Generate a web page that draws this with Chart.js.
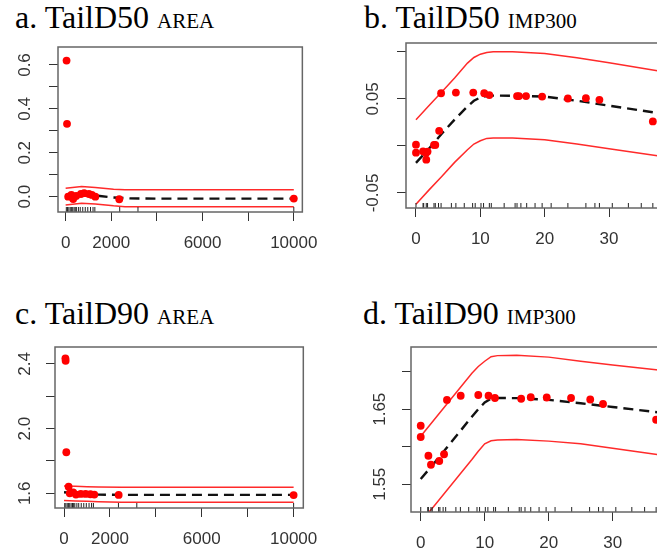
<!DOCTYPE html>
<html>
<head>
<meta charset="utf-8">
<script src="https://cdn.jsdelivr.net/npm/chart.js@4"></script>
<style>
html, body { margin: 0; padding: 0; background: #fff; overflow: hidden; }
body { width: 657px; height: 556px; position: relative; }
.ttl { position: absolute; font-family: "Liberation Serif", "Times New Roman", serif; font-size: 32px; line-height: 32px; color: #000; white-space: nowrap; }
.ttl small { font-size: 21px; }
canvas { position: absolute; }
</style>
</head>
<body>
<div class="ttl" style="left:15px;top:1px">a. TailD50 <small>AREA</small></div>
<div class="ttl" style="left:364px;top:1px">b. TailD50 <small>IMP300</small></div>
<div class="ttl" style="left:15px;top:297px">c. TailD90 <small>AREA</small></div>
<div class="ttl" style="left:363px;top:297px">d. TailD90 <small>IMP300</small></div>
<canvas id="pa" width="330" height="230" style="left:0;top:40px"></canvas>
<canvas id="pb" width="360" height="230" style="left:330px;top:40px"></canvas>
<canvas id="pc" width="330" height="226" style="left:0;top:330px"></canvas>
<canvas id="pd" width="360" height="226" style="left:330px;top:330px"></canvas>
<script>
// --- a. TailD50 ~ AREA ---
const ptsXa = [40, 60, 110, 250, 330, 460, 670, 810, 1020, 1150, 1300, 2350, 10000];
const ptsYa = [0.62, 0.332, 0.0, 0.008, -0.011, 0.003, 0.012, 0.016, 0.012, 0.008, 0.0, -0.012, -0.009];
const fitXa = [0, 500, 1000, 1500, 2000, 2800, 4000, 10000];
const fitYa = [0.0, 0.005, 0.007, 0.003, -0.003, -0.008, -0.009, -0.009];
const bandXa = [0, 700, 1300, 2100, 2600, 10000];
const upYa = [0.038, 0.046, 0.042, 0.034, 0.031, 0.031];
const loYa = [-0.038, -0.030, -0.033, -0.042, -0.046, -0.046];

// --- b. TailD50 ~ IMP300 ---
const ptsXb = [0, 0, 1.1, 1.55, 1.6, 1.8, 2.8, 3.0, 3.6, 3.9, 6.2, 8.9, 10.6, 11.4, 15.7, 16.0, 17.1, 19.6, 23.6, 26.4, 28.5, 36.8];
const ptsYb = [0.0013, -0.0072, -0.0058, -0.0075, -0.0146, -0.006, 0.001, 0.001, 0.016, 0.056, 0.0567, 0.0567, 0.056, 0.054, 0.053, 0.053, 0.053, 0.0525, 0.0504, 0.0507, 0.049, 0.026];
const fitXb = [0, 2, 4, 6, 8, 9, 10, 11, 12, 15, 20, 25, 30, 37.5];
const fitYb = [-0.018, -0.003, 0.013, 0.028, 0.042, 0.048, 0.0515, 0.053, 0.0535, 0.0533, 0.0525, 0.048, 0.0428, 0.035];
const upYb = [0.0278, 0.0426, 0.0574, 0.0722, 0.088, 0.094, 0.0975, 0.0994, 0.1, 0.1, 0.0982, 0.0938, 0.0883, 0.080];
const loYb = [-0.062, -0.047, -0.0325, -0.0175, -0.004, 0.002, 0.0055, 0.008, 0.0085, 0.0085, 0.0065, 0.002, -0.003, -0.0105];

// --- c. TailD90 ~ AREA ---
const ptsXc = [60, 70, 100, 200, 250, 400, 520, 730, 940, 1150, 1320, 2380, 10000];
const ptsYc = [2.435, 2.42, 1.854, 1.641, 1.60, 1.606, 1.592, 1.596, 1.596, 1.594, 1.592, 1.590, 1.589];
const fitXc = [0, 500, 1000, 1500, 2500, 10000];
const fitYc = [1.606, 1.600, 1.595, 1.592, 1.590, 1.590];
const upYc = [1.645, 1.643, 1.641, 1.639, 1.638, 1.638];
const loYc = [1.556, 1.553, 1.550, 1.547, 1.544, 1.544];

// --- d. TailD90 ~ IMP300 ---
const ptsXd = [0, 0, 1.2, 1.6, 2.9, 3.65, 4.1, 6.25, 9.0, 10.6, 11.6, 15.7, 17.2, 19.7, 23.5, 26.5, 28.5, 36.8];
const ptsYd = [1.628, 1.613, 1.588, 1.576, 1.581, 1.590, 1.6625, 1.668, 1.669, 1.668, 1.665, 1.664, 1.666, 1.6657, 1.665, 1.663, 1.657, 1.636];
const fitXd = [0, 2, 4, 6, 8, 9, 10, 11, 12, 15, 20, 25, 30, 37.5];
const fitYd = [1.557, 1.577, 1.598, 1.619, 1.640, 1.650, 1.659, 1.664, 1.665, 1.6648, 1.6625, 1.658, 1.653, 1.6455];
const upYd = [1.614, 1.635, 1.656, 1.677, 1.698, 1.707, 1.714, 1.720, 1.7215, 1.722, 1.7195, 1.714, 1.709, 1.702];
const loYd = [1.500, 1.520, 1.541, 1.562, 1.583, 1.594, 1.604, 1.608, 1.609, 1.6095, 1.6075, 1.604, 1.598, 1.589];

// rug (x values of observations)
const rugArea = [30, 80, 140, 200, 250, 310, 370, 420, 470, 560, 640, 750, 860, 970, 1090, 1200, 1280, 2370, 3170, 10000];
const rugImp = [0, 1.1, 1.2, 1.6, 1.8, 2.8, 3.0, 3.5, 3.9, 5.5, 6.2, 7.5, 8.8, 9.2, 10.1, 10.5, 11.4, 11.7, 13.7, 15.4, 15.7, 16.3, 17.2, 18.5, 19.6, 21.0, 23.6, 26.4, 27.8, 28.5, 30.5, 33.0, 35.0, 36.8];

// axis ticks + which ones get a label
const xTicksArea = [0, 2000, 4000, 6000, 8000, 10000];
const xLabArea = [0, 2000, 6000, 10000];
const xTicksImp = [0, 10, 20, 30];
const yTicksA = [0, 0.1, 0.2, 0.3, 0.4, 0.5, 0.6];
const yLabA = [0, 0.2, 0.4, 0.6];
const yTicksB = [-0.05, 0, 0.05, 0.1];
const yLabB = [-0.05, 0.05];
const yTicksC = [1.6, 1.8, 2.0, 2.2, 2.4];
const yLabC = [1.6, 2.0, 2.4];
const yTicksD = [1.55, 1.6, 1.65, 1.7];
const yLabD = [1.55, 1.65];

const tickFont = { family: 'Liberation Sans, Arial, sans-serif', size: 17 };
const txtColor = '#333';

function zip(xs, ys) {
    return xs.map((x, i) => ({ x: x, y: ys[i] }));
}

function hasLabel(list, v) {
    return list.some(l => Math.abs(l - v) < 1e-9);
}

const gamPlugin = {
    id: 'gamFrame',
    afterDatasetsDraw(chart) {
        const p = chart.options.plugins.gamFrame;
        const { ctx, chartArea: a, scales } = chart;
        ctx.save();
        // rug along the bottom of the box
        ctx.strokeStyle = '#222';
        ctx.lineWidth = 1;
        ctx.beginPath();
        p.rug.forEach(v => {
            const x = scales.x.getPixelForValue(v);
            if (x < a.left || x > a.right) return;
            ctx.moveTo(x, a.bottom);
            ctx.lineTo(x, a.bottom - 5);
        });
        ctx.stroke();
        // box
        ctx.strokeStyle = '#666';
        ctx.lineWidth = 1.5;
        ctx.strokeRect(a.left, a.top, a.right - a.left, a.bottom - a.top);
        // rotated y labels, R style
        ctx.fillStyle = txtColor;
        ctx.font = tickFont.size + 'px ' + tickFont.family;
        ctx.textAlign = 'center';
        ctx.textBaseline = 'middle';
        p.yLab.forEach(v => {
            const y = scales.y.getPixelForValue(v);
            ctx.save();
            ctx.translate(a.left - p.yLabOff, y);
            ctx.rotate(-Math.PI / 2);
            ctx.fillText(v.toFixed(p.yDec), 0, 0);
            ctx.restore();
        });
        ctx.restore();
    }
};

function makePanel(id, d) {
    const lineDs = (xs, ys, color, width, dash) => ({
        data: zip(xs, ys),
        showLine: true,
        borderColor: color,
        borderWidth: width,
        borderDash: dash,
        pointRadius: 0,
        fill: false,
        tension: 0,
        order: 1
    });
    new Chart(document.getElementById(id), {
        type: 'scatter',
        data: {
            datasets: [
                {
                    data: zip(d.px, d.py),
                    pointRadius: 3.9,
                    pointBackgroundColor: '#ff0000',
                    pointBorderWidth: 0,
                    order: 0
                },
                lineDs(d.fx, d.fy, '#111', 2.4, [10, 6]),
                lineDs(d.bx, d.up, '#ff2a2a', 1.5, []),
                lineDs(d.bx, d.lo, '#ff2a2a', 1.5, [])
            ]
        },
        options: {
            responsive: false,
            animation: false,
            events: [],
            layout: { autoPadding: false, padding: { left: 0, top: d.padTop, right: d.padRight, bottom: 0 } },
            plugins: {
                legend: { display: false },
                tooltip: { enabled: false },
                gamFrame: { rug: d.rug, yLab: d.yLab, yDec: d.yDec, yLabOff: d.yLabOff }
            },
            scales: {
                x: {
                    type: 'linear',
                    min: d.xMin,
                    max: d.xMax,
                    afterBuildTicks: s => { s.ticks = d.xTicks.map(v => ({ value: v })); },
                    afterFit: s => { s.height = d.xAxisH; },
                    border: { display: false },
                    grid: { drawOnChartArea: false, drawTicks: true, tickLength: 9, color: '#333' },
                    ticks: {
                        autoSkip: false,
                        maxRotation: 0,
                        padding: 12,
                        color: txtColor,
                        font: tickFont,
                        callback: v => hasLabel(d.xLab, v) ? String(v) : ''
                    }
                },
                y: {
                    type: 'linear',
                    min: d.yMin,
                    max: d.yMax,
                    afterBuildTicks: s => { s.ticks = d.yTicks.map(v => ({ value: v })); },
                    afterFit: s => { s.width = d.yAxisW; },
                    border: { display: false },
                    grid: { drawOnChartArea: false, drawTicks: true, tickLength: 9, color: '#333' },
                    ticks: { display: false }
                }
            }
        },
        plugins: [gamPlugin]
    });
}

makePanel('pa', {
    px: ptsXa, py: ptsYa, fx: fitXa, fy: fitYa, bx: bandXa, up: upYa, lo: loYa, rug: rugArea,
    xMin: -335, xMax: 10375, yMin: -0.07, yMax: 0.682,
    xTicks: xTicksArea, xLab: xLabArea, yTicks: yTicksA, yLab: yLabA, yDec: 1,
    yAxisW: 58, xAxisH: 58, padTop: 7, padRight: 16, yLabOff: 33
});
makePanel('pb', {
    px: ptsXb, py: ptsYb, fx: fitXb, fy: fitYb, bx: fitXb, up: upYb, lo: loYb, rug: rugImp,
    xMin: -1.55, xMax: 39, yMin: -0.066, yMax: 0.1094,
    xTicks: xTicksImp, xLab: xTicksImp, yTicks: yTicksB, yLab: yLabB, yDec: 2,
    yAxisW: 76, xAxisH: 62, padTop: 3, padRight: 23, yLabOff: 33
});
makePanel('pc', {
    px: ptsXc, py: ptsYc, fx: fitXc, fy: fitYc, bx: fitXc, up: upYc, lo: loYc, rug: rugArea,
    xMin: -393, xMax: 10422, yMin: 1.509, yMax: 2.505,
    xTicks: xTicksArea, xLab: xLabArea, yTicks: yTicksC, yLab: yLabC, yDec: 1,
    yAxisW: 55, xAxisH: 48, padTop: 17, padRight: 19, yLabOff: 30
});
makePanel('pd', {
    px: ptsXd, py: ptsYd, fx: fitXd, fy: fitYd, bx: fitXd, up: upYd, lo: loYd, rug: rugImp,
    xMin: -1.52, xMax: 38.5, yMin: 1.513, yMax: 1.733,
    xTicks: xTicksImp, xLab: xTicksImp, yTicks: yTicksD, yLab: yLabD, yDec: 2,
    yAxisW: 81, xAxisH: 44, padTop: 17, padRight: 23, yLabOff: 31
});
</script>
</body>
</html>
